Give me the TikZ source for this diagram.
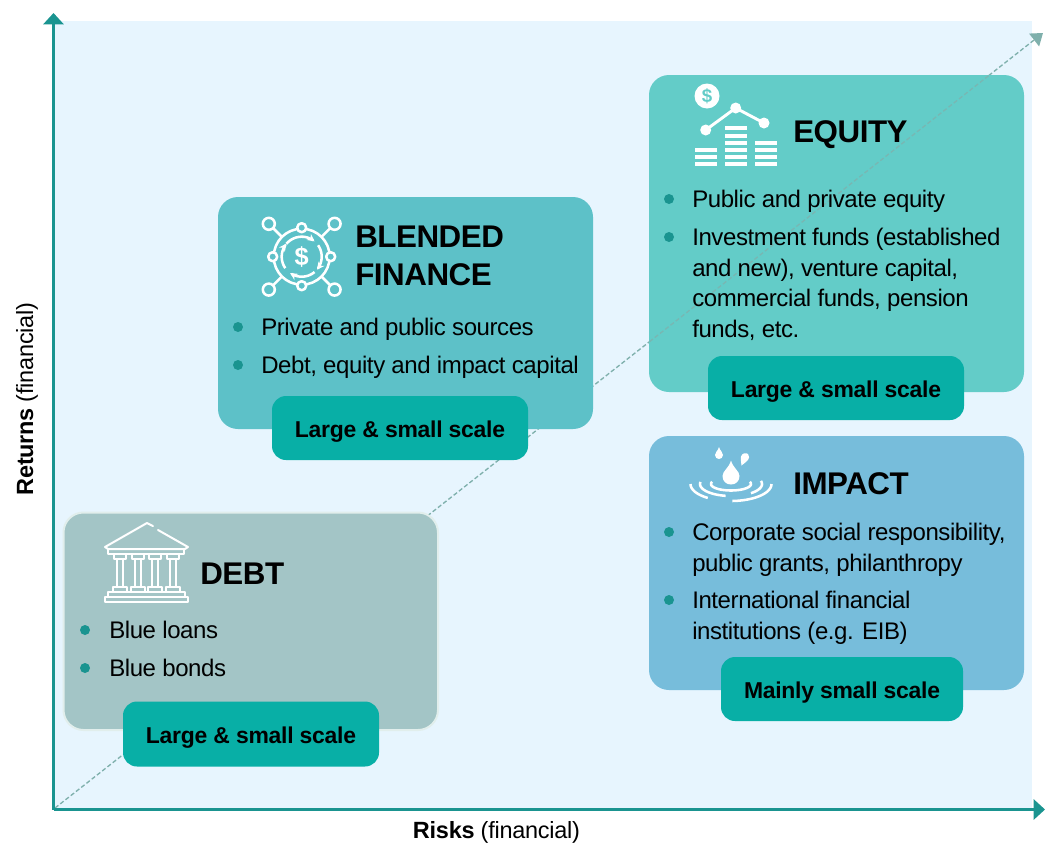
\documentclass[tikz,border=0pt]{standalone}
\usepackage{fontspec}
\setmainfont{Liberation Sans}
\usetikzlibrary{arrows.meta}
\definecolor{bgblue}{HTML}{E7F5FE}
\definecolor{axisc}{HTML}{1A9490}
\definecolor{diagc}{HTML}{7FB0AC}
\definecolor{debtc}{HTML}{A3C5C6}
\definecolor{debtedge}{HTML}{E1EEEC}
\definecolor{blendc}{HTML}{5DC1C8}
\definecolor{equityc}{HTML}{63CCC8}
\definecolor{impactc}{HTML}{77BDDB}
\definecolor{pillc}{HTML}{08AFA6}
\definecolor{bulc}{HTML}{1A9490}
\newcommand{\bodyfnt}{\fontsize{18pt}{22pt}\selectfont\addfontfeature{LetterSpace=-1.7}}
\newcommand{\headfnt}{\fontsize{23.5pt}{28.5pt}\selectfont\bfseries\addfontfeature{LetterSpace=-1.5}}
\newcommand{\pillfnt}{\fontsize{17.2pt}{20pt}\selectfont\bfseries\addfontfeature{LetterSpace=-1.2}}
\newcommand{\axfnt}{\fontsize{17.6pt}{20pt}\selectfont\addfontfeature{LetterSpace=-1}}
\tikzset{
 x=0.75pt,y=-0.75pt,
 panel/.style={rounded corners=15pt},
 pill/.style={fill=pillc,rounded corners=10.5pt,inner sep=0pt,anchor=center,font=\pillfnt,text height=16pt,text depth=2pt},
 head/.style={anchor=west,inner sep=0pt,align=left,font=\headfnt},
 body/.style={anchor=base west,inner sep=0pt,font=\bodyfnt},
 bul/.style={circle,fill=bulc,inner sep=0pt,minimum size=7.5pt},
 ax/.style={axisc,line width=2.2pt,-{Triangle[length=8.5pt,width=15pt]}},
 dashline/.style={line width=1pt,dash pattern=on 3.2pt off 1.8pt},
 ic/.style={white,line width=1.5pt,line cap=round,line join=round},
 ic2/.style={white,line width=1.9pt,line join=round},
 axl/.style={inner sep=0pt,font=\axfnt},
}
\begin{document}
\begin{tikzpicture}
\useasboundingbox (0,0) rectangle (1050,843);
\fill[white] (0,0) rectangle (1050,843);
\fill[bgblue] (54,21) rectangle (1032,809);
% axes
\coordinate (o) at (53.5,809.5);
\coordinate (ytip) at (53.5,13);
\coordinate (xtip) at (1045,809.5);
\coordinate (dstart) at (55,808);
\coordinate (dtip) at (1043,33);
\draw[diagc,dashline,-{Triangle[length=8.5pt,width=12pt]}] (dstart) -- (dtip);
\draw[ax] (o) -- (ytip);
\draw[ax] (o) -- (xtip);
\node[axl,rotate=90] (ylab) at (27,399) {\textbf{Returns} (financial)};
\node[axl] (xlab) at (496.5,832) {\textbf{Risks} (financial)};
% debt
\draw[panel,fill=debtc,draw=debtedge,line width=1.5pt] (63.5,512.5) rectangle (438,730);
\node[pill,minimum width=192pt,minimum height=48.75pt] (p1) at (251,734) {Large \& small scale};
% blended
\fill[panel,fill=blendc] (218,197) rectangle (593,429);
\node[pill,minimum width=192pt,minimum height=48pt] (p2) at (400,428) {Large \& small scale};
% equity
\fill[panel,fill=equityc] (649,75) rectangle (1024,392);
\coordinate (eqa) at (649.5,341.7);
\coordinate (eqb) at (989.5,75);
\draw[diagc!75!equityc,dashline] (eqa) -- (eqb);
\node[pill,minimum width=192pt,minimum height=48pt] (p3) at (836,388) {Large \& small scale};
% impact
\fill[panel,fill=impactc] (649,436) rectangle (1024,690);
\node[pill,minimum width=181.5pt,minimum height=48pt] (p4) at (842,689) {Mainly small scale};
% headings
\node[head] (hd) at (200,574) {DEBT};
\node[head,text width=200pt] (hb) at (355,256) {BLENDED\\FINANCE};
\node[head] (he) at (793,134.5) {EQUITY};
\node[head] (hi) at (793,484) {IMPACT};
% body
\node[bul] (b1) at (85,630) {}; \node[body] (t1) at (109,638.5) {Blue loans};
\node[bul] (b2) at (85,668) {}; \node[body] (t2) at (109,676.5) {Blue bonds};
\node[bul] (b3) at (238,327) {}; \node[body] (t3) at (261,335.5) {Private and public sources};
\node[bul] (b4) at (238,365) {}; \node[body] (t4) at (261,373.5) {Debt, equity and impact capital};
\node[bul] (b5) at (669,199) {}; \node[body] (t5) at (692,207.5) {Public and private equity};
\node[bul] (b6) at (669,237) {};
\node[body] (t6) at (692,245.5) {Investment funds (established};
\node[body] (t7) at (692,276) {and new), venture capital,};
\node[body] (t8) at (692,306.5) {commercial funds, pension};
\node[body] (t9) at (692,337) {funds, etc.};
\node[bul] (b7) at (669,532) {};
\node[body] (t10) at (692,540.5) {Corporate social responsibility,};
\node[body] (t11) at (692,571) {public grants, philanthropy};
\node[bul] (b8) at (669,600) {};
\node[body] (t12) at (692,608.5) {International financial};
\node[body] (t13) at (692,639) {institutions (e.g. EIB)};
% bank icon
\begin{scope}[ic]
\draw (153,526) -- (147,523) -- (105,547) -- (108,549) -- (185,549) -- (188,547) -- (158,530);
\draw (108,549) rectangle (184,554);
\foreach \x in {114,132,149,167} {
 \draw (\x,554) -- (\x,559) -- (\x+12,559) -- (\x+12,554);
 \draw (\x+3,559) -- (\x+3,587) (\x+9,559) -- (\x+9,587);
 \draw (\x-1,591) -- (\x-1,587) -- (\x+13,587) -- (\x+13,591);
}
\draw (108,597) -- (108,591.5) -- (185,591.5) -- (185,597);
\draw (105,597) rectangle (188,602);
\end{scope}
% blended icon
\begin{scope}[ic2,shift={(301.7,256.7)}]
\draw (0,0) circle (28);
\foreach \a in {45,135,225,315} {
 \draw (\a:28) -- (\a:41);
 \draw[fill=blendc] (\a:46.5) circle (6);
}
\foreach \a in {0,90,180,270} { \draw[fill=blendc] (\a:29) circle (4.5); }
\draw[-{Stealth[length=5.5pt,width=5.5pt]}] plot[domain=-140:-50,samples=16] ({20*cos(\x)},{20*sin(\x)});
\draw[-{Stealth[length=5.5pt,width=5.5pt]}] plot[domain=-35:40,samples=16] ({20*cos(\x)},{20*sin(\x)});
\draw[-{Stealth[length=5.5pt,width=5.5pt]}] plot[domain=50:125,samples=16] ({20*cos(\x)},{20*sin(\x)});
\draw[-{Stealth[length=5.5pt,width=5.5pt]}] plot[domain=145:220,samples=16] ({20*cos(\x)},{20*sin(\x)});
\node[white,inner sep=0pt,font=\fontsize{19pt}{20pt}\selectfont\bfseries] (dol1) at (0,0) {\$};
\end{scope}
% equity icon
\fill[white] (707,96) circle (12.5);
\node[equityc,inner sep=0pt,font=\fontsize{14pt}{15pt}\selectfont\bfseries] (dol2) at (707,96) {\$};
\draw[white,line width=2.2pt] (705.7,130) -- (735.7,108) -- (764,123);
\fill[white] (705.7,130) circle (5.5) (735.7,108) circle (5.5) (764,123) circle (5.5);
\foreach \y in {150,156.5,164} {\fill[white] (695,\y-2) rectangle (717,\y+2);}
\foreach \y in {128,136,143,150,156.5,164} {\fill[white] (725,\y-2) rectangle (747,\y+2);}
\foreach \y in {143,150,156.5,164} {\fill[white] (755,\y-2) rectangle (777,\y+2);}
% impact icon
\fill[white] (719,447) .. controls (718,451) and (715,452) .. (715,455) .. controls (715,457.5) and (717,459) .. (719,459) .. controls (721,459) and (723,457.5) .. (723,455) .. controls (723,452) and (720,451) .. (719,447) -- cycle;
\fill[white] (741.5,465.5) .. controls (741,461) and (740.5,459) .. (741,456.5) .. controls (742,453) and (746,452.5) .. (748,454) .. controls (750,456) and (749,458.5) .. (748,460) .. controls (746,462.5) and (743,464) .. (741.5,465.5) -- cycle;
\fill[white] (731,460.5) .. controls (729,468) and (722.5,471) .. (722.5,476) .. controls (722.5,481) and (726,484.5) .. (731,484.5) .. controls (736,484.5) and (739.5,481) .. (739.5,476) .. controls (739.5,471) and (733,468) .. (731,460.5) -- cycle;
\begin{scope}[white,line width=1.9pt]
\draw plot[domain=-20:200,samples=40] ({731+20*cos(\x)},{484+6.5*sin(\x)});
\draw plot[domain=100:190,samples=20] ({731+31*cos(\x)},{484+12*sin(\x)});
\draw plot[domain=-15:50,samples=20] ({731+31*cos(\x)},{484+12*sin(\x)});
\draw plot[domain=125:180,samples=20] ({731+40.5*cos(\x)},{484+17*sin(\x)});
\draw plot[domain=0:88,samples=20] ({731+40.5*cos(\x)},{484+17*sin(\x)});
\end{scope}
\end{tikzpicture}
\end{document}
